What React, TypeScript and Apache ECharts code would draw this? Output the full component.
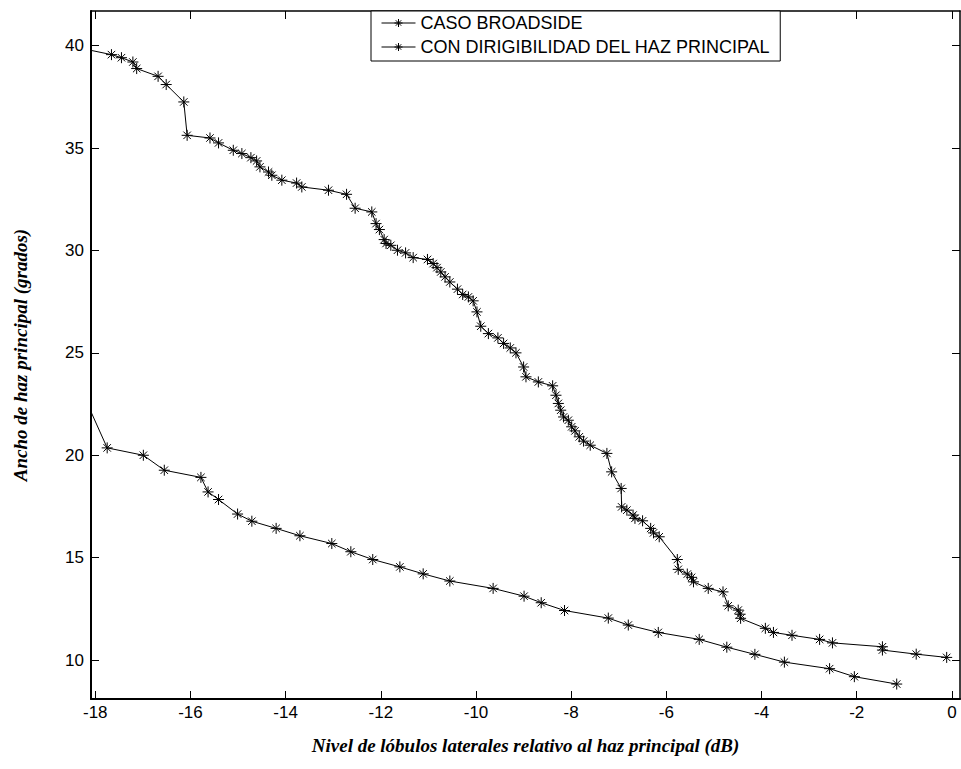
import React, { useEffect, useRef } from "react";
import * as echarts from "echarts";

// Beamwidth vs. side-lobe level, broadside array
const broadsideX = [
  -18.2, -17.75, -16.99, -16.55, -15.78, -15.63, -15.41, -15.01, -14.71, -14.2,
  -13.7, -13.03, -12.63, -12.17, -11.6, -11.11, -10.55, -9.64, -8.99, -8.63,
  -8.14, -7.22, -6.8, -6.17, -5.31, -4.73, -4.14, -3.52, -2.57, -2.05, -1.16,
];
const broadsideY = [
  22.69, 20.36, 20.0, 19.27, 18.92, 18.21, 17.84, 17.13, 16.78, 16.43,
  16.07, 15.69, 15.29, 14.91, 14.55, 14.21, 13.86, 13.5, 13.12, 12.8,
  12.42, 12.05, 11.71, 11.35, 11.01, 10.63, 10.28, 9.9, 9.58, 9.19, 8.83,
];

// Beamwidth vs. side-lobe level, with main-beam steering
const steeredX = [
  -18.3, -17.66, -17.45, -17.21, -17.13, -16.68, -16.51, -16.14, -16.07, -15.59,
  -15.41, -15.1, -14.92, -14.73, -14.61, -14.54, -14.36, -14.29, -14.08, -13.77,
  -13.66, -13.1, -12.72, -12.54, -12.19, -12.1, -12.03, -11.93, -11.89, -11.79,
  -11.65, -11.48, -11.32, -11.02, -10.9, -10.82, -10.74, -10.65, -10.55, -10.39,
  -10.28, -10.16, -10.06, -9.98, -9.9, -9.74, -9.54, -9.42, -9.28, -9.16,
  -9.0, -8.95, -8.69, -8.39, -8.32, -8.27, -8.22, -8.16, -8.06, -7.99,
  -7.92, -7.83, -7.74, -7.6, -7.25, -7.15, -6.95, -6.94, -6.83, -6.7,
  -6.66, -6.5, -6.33, -6.27, -6.15, -5.77, -5.75, -5.56, -5.47, -5.43,
  -5.12, -4.81, -4.7, -4.49, -4.45, -4.44, -3.92, -3.75, -3.36, -2.78,
  -2.51, -1.46, -1.46, -0.75, -0.11,
];
const steeredY = [
  39.87, 39.56, 39.41, 39.2, 38.88, 38.5, 38.1, 37.25, 35.62, 35.49,
  35.25, 34.89, 34.73, 34.53, 34.37, 34.08, 33.83, 33.67, 33.43, 33.29,
  33.1, 32.94, 32.74, 32.06, 31.88, 31.31, 31.02, 30.53, 30.34, 30.25,
  30.01, 29.88, 29.65, 29.56, 29.36, 29.16, 28.95, 28.71, 28.46, 28.11,
  27.85, 27.73, 27.54, 27.0, 26.3, 25.94, 25.73, 25.46, 25.24, 25.0,
  24.31, 23.83, 23.58, 23.39, 22.93, 22.53, 22.2, 21.87, 21.71, 21.39,
  21.19, 20.9, 20.69, 20.49, 20.09, 19.19, 18.38, 17.48, 17.32, 17.08,
  16.92, 16.8, 16.43, 16.21, 16.02, 14.91, 14.43, 14.2, 14.04, 13.82,
  13.5, 13.33, 12.65, 12.44, 12.24, 12.04, 11.55, 11.35, 11.21, 11.01,
  10.84, 10.65, 10.49, 10.29, 10.13,
];

const seriesNames = ["CASO BROADSIDE", "CON DIRIGIBILIDAD DEL HAZ PRINCIPAL"];
const xTicks = [-18, -16, -14, -12, -10, -8, -6, -4, -2, 0];
const yTicks = [10, 15, 20, 25, 30, 35, 40];
const xRange = [-18.09, 0.17];
const yRange = [8.1, 41.69];
const xTitle = "Nivel de lóbulos laterales relativo al haz principal (dB)";
const yTitle = "Ancho de haz principal (grados)";

// MATLAB-style '*' marker: plus sign overlaid with an x
const ASTERISK = "path://M5,0L5,10M0,5L10,5M1.6,1.6L8.4,8.4M8.4,1.6L1.6,8.4";

const SANS = "'Liberation Sans', Arial, sans-serif";
const SERIF = "'Liberation Serif', 'Times New Roman', serif";

function pairs(xs: number[], ys: number[]) {
  return xs.map((x, i) => [x, ys[i]]);
}

function frameAxis(
  position: string,
  ticks: number[],
  range: number[],
  labelled: boolean,
  labelMargin: number,
  lineWidth: number,
  extra: any = {}
) {
  return {
    type: "value",
    position,
    min: range[0],
    max: range[1],
    axisLine: { show: true, onZero: false, lineStyle: { color: "#000", width: lineWidth } },
    axisTick: {
      show: true,
      inside: true,
      length: 8,
      customValues: ticks,
      lineStyle: { color: "#000", width: 1 },
    },
    axisLabel: {
      show: labelled,
      customValues: ticks,
      color: "#000",
      fontFamily: SANS,
      fontSize: 17,
      margin: labelMargin,
    },
    splitLine: { show: false },
    ...extra,
  };
}

export default function App() {
  const ref = useRef<HTMLDivElement>(null);

  useEffect(() => {
    document.body.style.margin = "0";
    if (!ref.current) return;
    const chart = echarts.init(ref.current, null, { renderer: "svg" });

    const titleStyle = {
      fontFamily: SERIF,
      fontSize: 19,
      fontWeight: "bold",
      fontStyle: "italic",
      color: "#000",
    };

    const markStyle = { color: "#000", borderColor: "#000", borderWidth: 1 };

    const lineSeries = (name: string, data: number[][]) => ({
      name,
      type: "line",
      data,
      xAxisIndex: 0,
      yAxisIndex: 0,
      clip: true,
      symbol: ASTERISK,
      symbolSize: 11,
      showAllSymbol: true,
      lineStyle: { color: "#000", width: 1 },
      itemStyle: markStyle,
      emphasis: { disabled: true },
    });

    chart.setOption({
      animation: false,
      backgroundColor: "#fff",
      grid: { left: 91, top: 11, right: 1, bottom: 70 },
      legend: {
        data: seriesNames,
        orient: "vertical",
        left: 371,
        top: 11,
        padding: [3, 10, 5, 10],
        itemWidth: 34,
        itemHeight: 10,
        itemGap: 6,
        itemTextGap: 12,
        backgroundColor: "#fff",
        borderColor: "#000",
        borderWidth: 1,
        itemStyle: markStyle,
        lineStyle: { color: "#000", width: 1 },
        textStyle: { color: "#000", fontFamily: SANS, fontSize: 18 },
        selectedMode: false,
      },
      xAxis: [
        frameAxis("bottom", xTicks, xRange, true, 5, 2, {
          name: xTitle,
          nameLocation: "middle",
          nameGap: 37,
          nameTextStyle: titleStyle,
        }),
        frameAxis("top", xTicks, xRange, false, 5, 1.5),
      ],
      yAxis: [
        frameAxis("left", yTicks, yRange, true, 7, 2, {
          name: yTitle,
          nameLocation: "middle",
          nameGap: 61,
          nameTextStyle: titleStyle,
        }),
        frameAxis("right", yTicks, yRange, false, 7, 1.5),
      ],
      series: [
        lineSeries(seriesNames[0], pairs(broadsideX, broadsideY)),
        lineSeries(seriesNames[1], pairs(steeredX, steeredY)),
      ],
    });

    return () => chart.dispose();
  }, []);

  return (
    <div
      ref={ref}
      style={{ position: "absolute", left: 0, top: 0, width: 961, height: 769 }}
    />
  );
}
